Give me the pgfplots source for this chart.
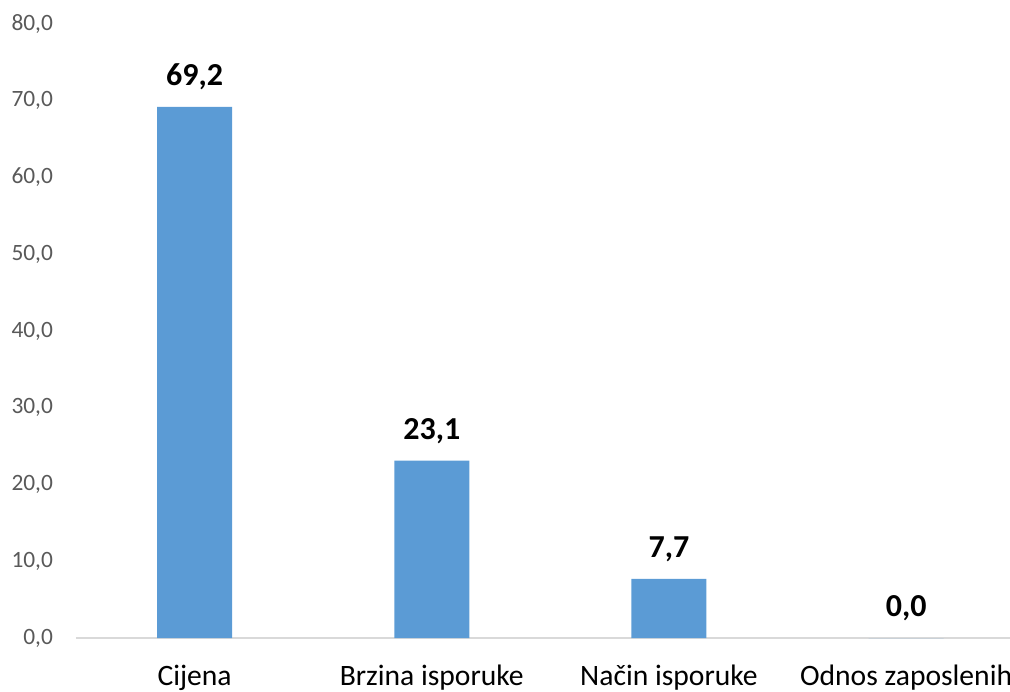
\documentclass[border=0pt]{standalone}
\usepackage{pgfplots}
\pgfplotsset{compat=1.18}
\usepackage{fontspec}
\setmainfont{Carlito}
\definecolor{barblue}{HTML}{5B9BD5}
\definecolor{ticktext}{HTML}{595959}
\definecolor{axisgray}{HTML}{D9D9D9}
\begin{document}
\begin{tikzpicture}
\begin{axis}[
  name=ax,
  scale only axis,
  width=467pt, height=307pt,
  xmin=-0.5, xmax=3.438,
  ymin=0, ymax=80,
  ytick={0,10,...,80},
  xtick={0,1,2,3},
  xticklabels={Cijena, Brzina isporuke, Način isporuke, Odnos zaposlenih},
  axis x line*=bottom,
  axis y line*=left,
  x axis line style={draw=axisgray, line width=0.8pt, -},
  y axis line style={draw=none},
  major tick length=0pt,
  /pgf/number format/assume math mode=true,
  yticklabel style={font=\fontsize{11.7}{13}\selectfont, text=ticktext, anchor=east, xshift=-8pt,
    /pgf/number format/.cd, fixed, fixed zerofill, precision=1, use comma},
  xticklabel style={font=\fontsize{14.8}{16}\selectfont, text=black, yshift=-10pt},
  ybar, bar width=37.5pt,
  nodes near coords={\pgfmathprintnumber[fixed, fixed zerofill, precision=1, use comma, assume math mode=true]{\pgfplotspointmeta}},
  nodes near coords style={font=\bfseries\fontsize{16}{18}\selectfont, text=black, anchor=south, yshift=5pt},
  clip=false,
]
\addplot[fill=barblue, draw=none] coordinates {(0,69.2) (1,23.1) (2,7.7) (3,0.0)};
\end{axis}
\pgfresetboundingbox
\path (ax.south west) ++(-38pt,-26.5pt) rectangle ++(505pt,345.5pt);
\end{tikzpicture}
\end{document}
